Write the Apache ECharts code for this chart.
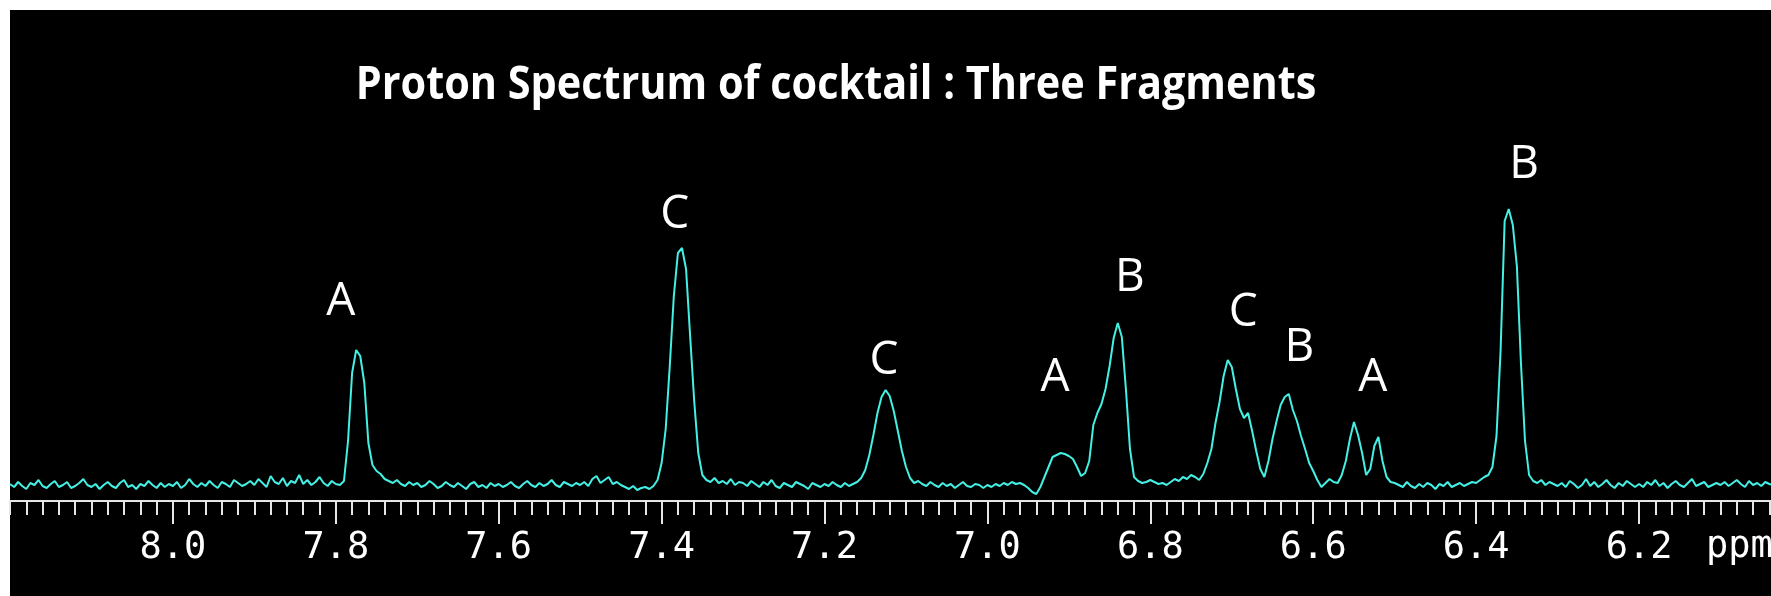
<!DOCTYPE html>
<html>
<head>
<meta charset="utf-8">
<script src="https://cdn.jsdelivr.net/npm/echarts@6/dist/echarts.min.js"></script>
<style>
  html, body { margin: 0; padding: 0; background: #fff; }
  #myChart { width: 1771px; height: 596px; }
</style>
</head>
<body>
<div id="myChart"></div>
<script>
// spectrum sampled every 0.005 ppm starting at 8.200 ppm (one row = 0.1 ppm)
const ppmStart = 8.2
const ppmStep = 0.005
const intensity = [
  17, 14, 19, 15, 12, 18, 16, 21, 15, 13, 17, 20, 14, 16, 19, 13, 15, 18, 22, 16, // 8.20
  14, 17, 12, 16, 19, 15, 13, 18, 21, 14, 16, 12, 17, 15, 20, 16, 13, 18, 14, 17, // 8.10
  15, 19, 13, 16, 22, 17, 14, 18, 15, 20, 16, 13, 19, 17, 14, 21, 18, 15, 17, 20, // 8.00
  16, 22, 18, 14, 25, 19, 17, 23, 15, 20, 18, 26, 17, 21, 16, 19, 24, 18, 15, 20, // 7.90
  17, 16, 20, 60, 128, 151, 145, 118, 58, 36, 30, 27, 22, 20, 18, 21, 17, 15, 19, 16, // 7.80
  18, 14, 16, 20, 17, 13, 15, 19, 16, 14, 18, 15, 12, 17, 19, 14, 16, 13, 18, 15, // 7.70
  17, 14, 16, 19, 15, 13, 17, 20, 16, 14, 18, 15, 17, 21, 16, 14, 19, 17, 15, 18, // 7.60
  16, 19, 15, 22, 25, 18, 21, 24, 17, 19, 16, 14, 12, 15, 11, 13, 14, 12, 15, 21, // 7.50
  38, 72, 135, 205, 248, 253, 232, 165, 100, 48, 26, 21, 19, 23, 18, 20, 17, 22, 16, 19, // 7.40
  18, 15, 20, 17, 14, 19, 16, 21, 15, 13, 18, 16, 14, 19, 17, 15, 12, 18, 16, 14, // 7.30
  17, 15, 19, 16, 14, 18, 15, 17, 19, 23, 31, 46, 66, 88, 104, 111, 105, 90, 70, 50, // 7.20
  34, 23, 18, 20, 17, 15, 19, 16, 14, 18, 15, 17, 13, 16, 19, 15, 14, 17, 16, 13, // 7.10
  16, 14, 17, 15, 18, 16, 19, 17, 18, 16, 13, 9, 7, 14, 24, 34, 44, 46, 48, 47, // 7.00
  45, 42, 34, 25, 28, 40, 76, 88, 97, 112, 135, 163, 178, 164, 112, 52, 24, 20, 18, 19, // 6.90
  21, 19, 17, 18, 16, 19, 22, 20, 24, 22, 26, 24, 21, 27, 38, 52, 78, 99, 125, 141, // 6.80
  134, 112, 92, 83, 88, 70, 50, 32, 24, 40, 62, 80, 96, 104, 107, 91, 80, 65, 52, 38, // 6.70
  30, 21, 14, 18, 22, 19, 18, 26, 40, 62, 79, 66, 48, 26, 32, 55, 64, 40, 24, 19, // 6.60
  18, 16, 14, 19, 15, 13, 17, 14, 18, 16, 12, 17, 15, 19, 14, 16, 18, 15, 17, 19, // 6.50
  18, 21, 24, 26, 34, 65, 150, 280, 292, 276, 235, 138, 60, 26, 20, 18, 21, 16, 19, 17, // 6.40
  15, 18, 14, 20, 17, 13, 16, 22, 15, 19, 14, 17, 21, 16, 13, 18, 15, 20, 17, 14, // 6.30
  17, 14, 19, 16, 21, 15, 18, 13, 17, 20, 16, 14, 18, 22, 15, 17, 19, 14, 16, 18, // 6.20
  16, 19, 15, 18, 21, 17, 14, 20, 16, 18, 15, 19, 17, 16 // 6.10
]

// fragment assignments written above the peaks
const peakLetters = ['A', 'C', 'C', 'A', 'B', 'C', 'B', 'A', 'B']
const letterPpm = [7.794, 7.384, 7.127, 6.917, 6.825, 6.686, 6.617, 6.527, 6.341]
const letterHeight = [199, 286, 140, 123, 223, 188, 153, 123, 336]

const majorTicks = [8.0, 7.8, 7.6, 7.4, 7.2, 7.0, 6.8, 6.6, 6.4, 6.2]
const titleText = 'Proton Spectrum of cocktail : Three Fragments'

const spectrum = intensity.map((v, i) => [+(ppmStart - i * ppmStep).toFixed(3), v])
const letters = peakLetters.map((n, i) => ({ name: n, value: [letterPpm[i], letterHeight[i]] }))
const minorTicks = []
for (let k = 604; k <= 820; k += 2) minorTicks.push(k / 100)

const axisBase = {
  type: 'value',
  min: 6.038,
  max: 8.2,
  inverse: true,
  splitLine: { show: false }
}

const myChart = echarts.init(document.getElementById('myChart'))
myChart.setOption({
  backgroundColor: '#000',
  animation: false,
  grid: { left: 10, right: 0, top: 10, bottom: 95 },
  xAxis: [
    Object.assign({}, axisBase, {
      axisLine: { show: true, lineStyle: { color: '#e6e6e6', width: 2 } },
      axisTick: { show: true, customValues: majorTicks, length: 23, lineStyle: { color: '#e6e6e6', width: 2 } },
      axisLabel: {
        show: true,
        customValues: majorTicks,
        formatter: (v) => v.toFixed(1),
        color: '#fff',
        fontFamily: 'DejaVu Sans Mono',
        fontSize: 37,
        margin: 29
      }
    }),
    Object.assign({}, axisBase, {
      position: 'bottom',
      axisLine: { show: false },
      axisTick: { show: true, customValues: minorTicks, length: 14, lineStyle: { color: '#e6e6e6', width: 2 } },
      axisLabel: { show: false }
    })
  ],
  yAxis: { type: 'value', min: 0, max: 491, show: false },
  graphic: [
    { type: 'rect', left: 0, top: 0, shape: { width: 10, height: 596 }, style: { fill: '#fff' } },
    { type: 'rect', left: 0, top: 0, shape: { width: 1771, height: 10 }, style: { fill: '#fff' } },
    {
      type: 'text', x: 836, y: 86, scaleX: 0.9,
      style: {
        text: titleText, fill: '#fff', font: 'bold 46px "Open Sans"',
        textAlign: 'center', textVerticalAlign: 'middle'
      }
    },
    {
      type: 'text', x: 1706, y: 529,
      style: { text: 'ppm', fill: '#fff', font: '37px "DejaVu Sans Mono"' }
    }
  ],
  series: [
    {
      type: 'line',
      data: spectrum,
      showSymbol: false,
      lineStyle: { color: '#44f0e4', width: 2 },
      z: 3
    },
    {
      type: 'scatter',
      data: letters,
      symbolSize: 0,
      itemStyle: { opacity: 1 },
      label: {
        show: true,
        position: 'inside',
        formatter: (p) => p.name,
        color: '#ffffff',
        opacity: 1,
        fontFamily: 'Open Sans',
        fontSize: 46
      }
    }
  ]
})
</script>
</body>
</html>
